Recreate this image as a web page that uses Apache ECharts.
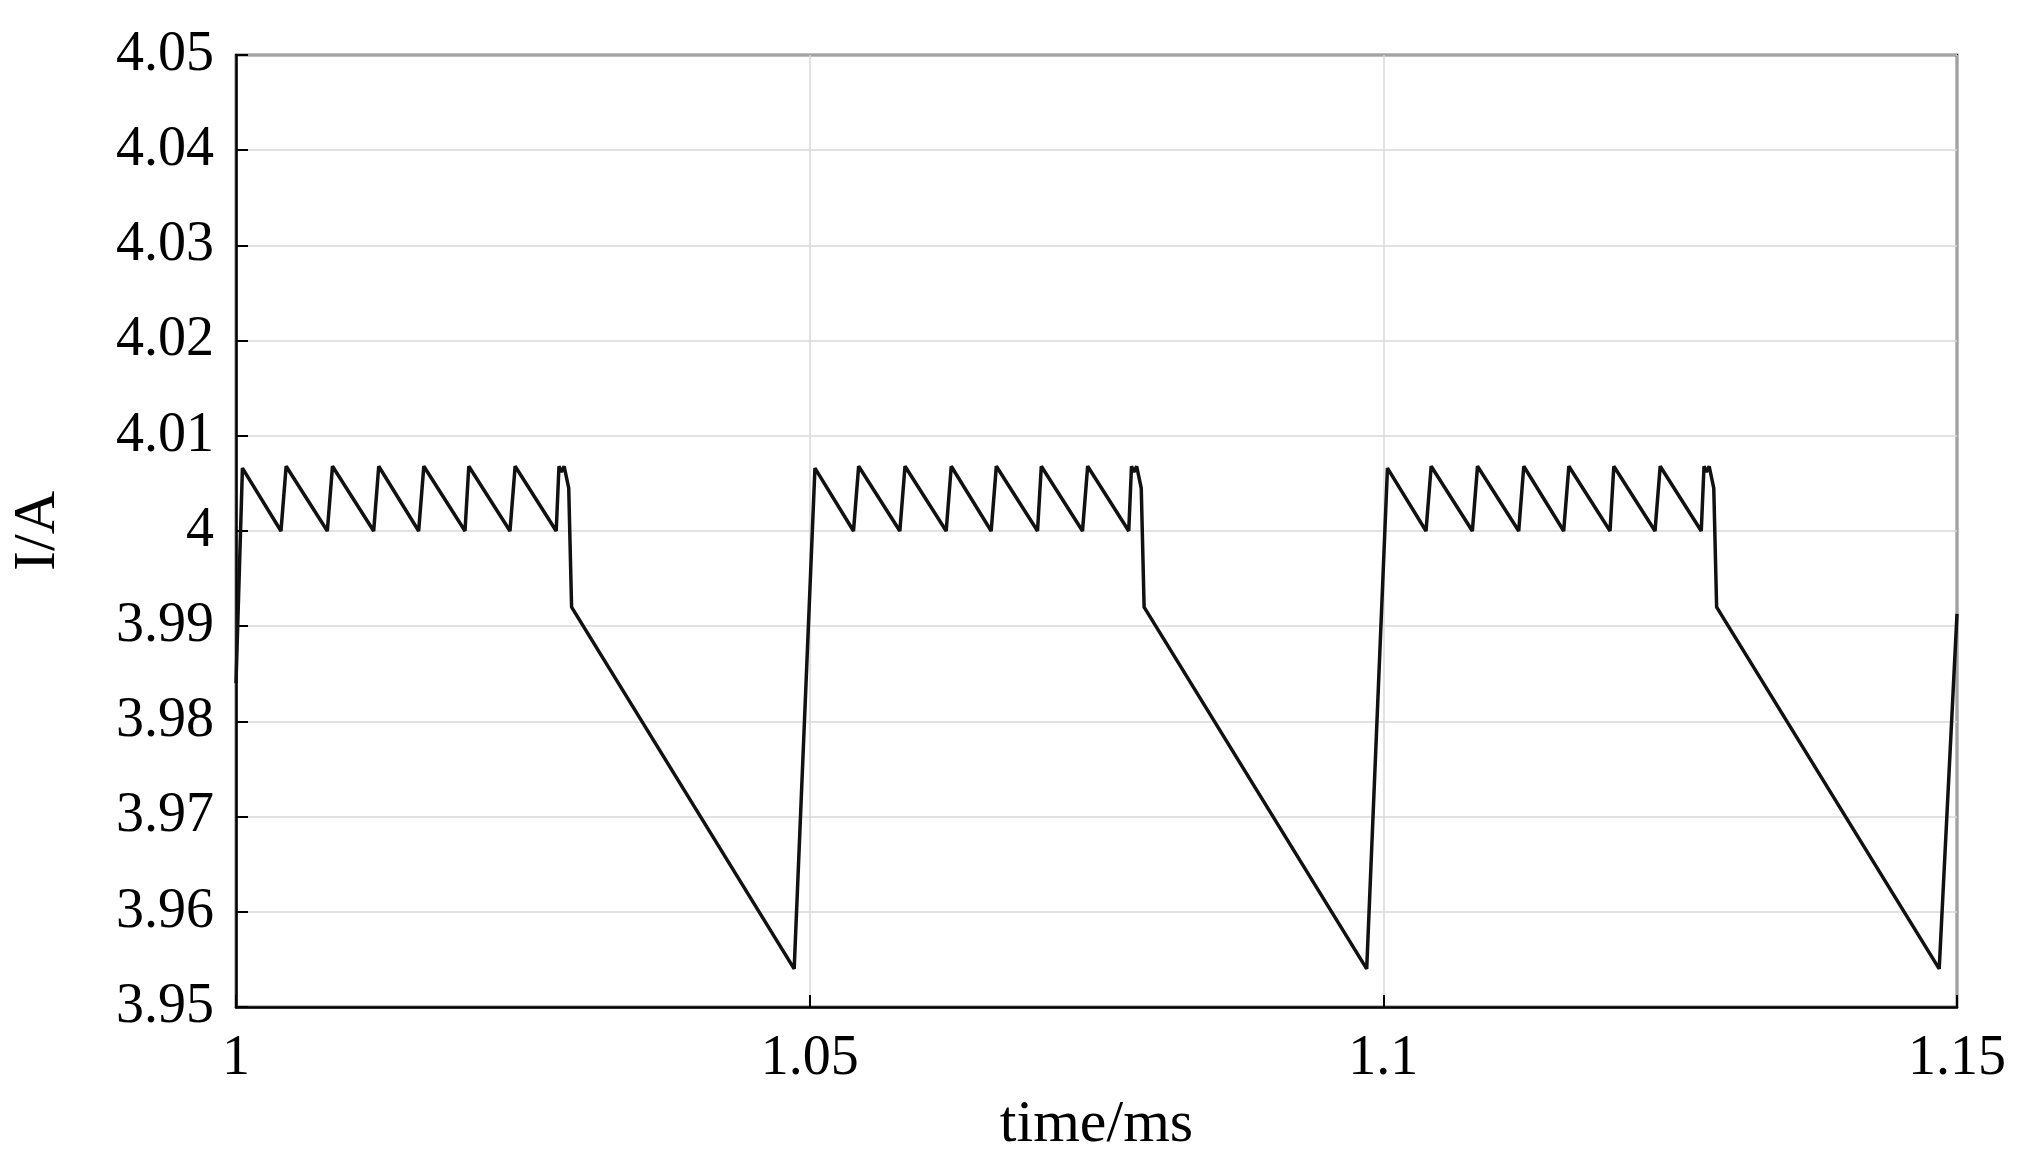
<!DOCTYPE html>
<html><head><meta charset="utf-8">
<script src="https://cdn.jsdelivr.net/npm/echarts@6/dist/echarts.min.js"></script>
<style>html,body{margin:0;padding:0;background:#fff}#c{width:2024px;height:1160px}</style>
</head><body><div id="c"></div>
<script>
const xTicks=[1,1.05,1.1,1.15];
const yTicks=[3.95,3.96,3.97,3.98,3.99,4,4.01,4.02,4.03,4.04,4.05];
const times=[1.0,1.00056,1.00392,1.00437,1.00796,1.00841,1.012,1.01244,1.01592,1.01637,1.01996,1.02029,1.02388,1.02433,1.02791,1.02815,1.02836,1.0286,1.029,1.02925,1.04865,
1.05046,1.05382,1.05427,1.05786,1.05831,1.0619,1.06234,1.06582,1.06627,1.06986,1.07019,1.07378,1.07423,1.07781,1.07805,1.07826,1.0785,1.0789,1.07915,1.09855,
1.10036,1.10372,1.10417,1.10776,1.10821,1.1118,1.11224,1.11572,1.11617,1.11976,1.12009,1.12368,1.12413,1.12771,1.12795,1.12816,1.1284,1.1288,1.12905,1.14845,1.15];
const current=[3.984,4.0066,4.0,4.0068,4.0,4.0068,4.0,4.0068,4.0,4.0068,4.0,4.0068,4.0,4.0068,4.0,4.0068,4.0062,4.0068,4.0045,3.992,3.954,
4.0066,4.0,4.0068,4.0,4.0068,4.0,4.0068,4.0,4.0068,4.0,4.0068,4.0,4.0068,4.0,4.0068,4.0062,4.0068,4.0045,3.992,3.954,
4.0066,4.0,4.0068,4.0,4.0068,4.0,4.0068,4.0,4.0068,4.0,4.0068,4.0,4.0068,4.0,4.0068,4.0062,4.0068,4.0045,3.992,3.954,3.9913];
const font='Liberation Serif';
const chart=echarts.init(document.getElementById('c'));
const axisCommon={axisLine:{show:true,onZero:false,lineStyle:{color:'#000',width:2.5}},
 axisTick:{show:true,inside:true,length:12,lineStyle:{color:'#000',width:2}},
 splitLine:{show:true,lineStyle:{color:'#d8d8d8',width:1.5}}};
chart.setOption({
 animation:false,
 grid:{left:230,right:67,top:55,bottom:144,show:true,borderColor:'#000',borderWidth:2.5},
 xAxis:Object.assign({type:'value',min:1,max:1.15,interval:0.05,name:'time/ms',nameLocation:'middle',nameGap:88,
  nameTextStyle:{fontFamily:font,fontSize:60,color:'#000'},
  axisLabel:{fontFamily:font,fontSize:56,color:'#000',margin:24,formatter:v=>String(+v.toFixed(2))}},axisCommon),
 yAxis:Object.assign({type:'value',min:3.95,max:4.05,interval:0.01,name:'I/A',nameLocation:'middle',nameGap:168,
  nameTextStyle:{fontFamily:font,fontSize:60,color:'#000'},
  axisLabel:{fontFamily:font,fontSize:56,color:'#000',margin:22,formatter:v=>String(+v.toFixed(2))}},axisCommon),
 series:[{type:'line',data:times.map((t,i)=>[t,current[i]]),showSymbol:false,lineStyle:{color:'#111',width:3.5},clip:true}]
});
</script></body></html>
